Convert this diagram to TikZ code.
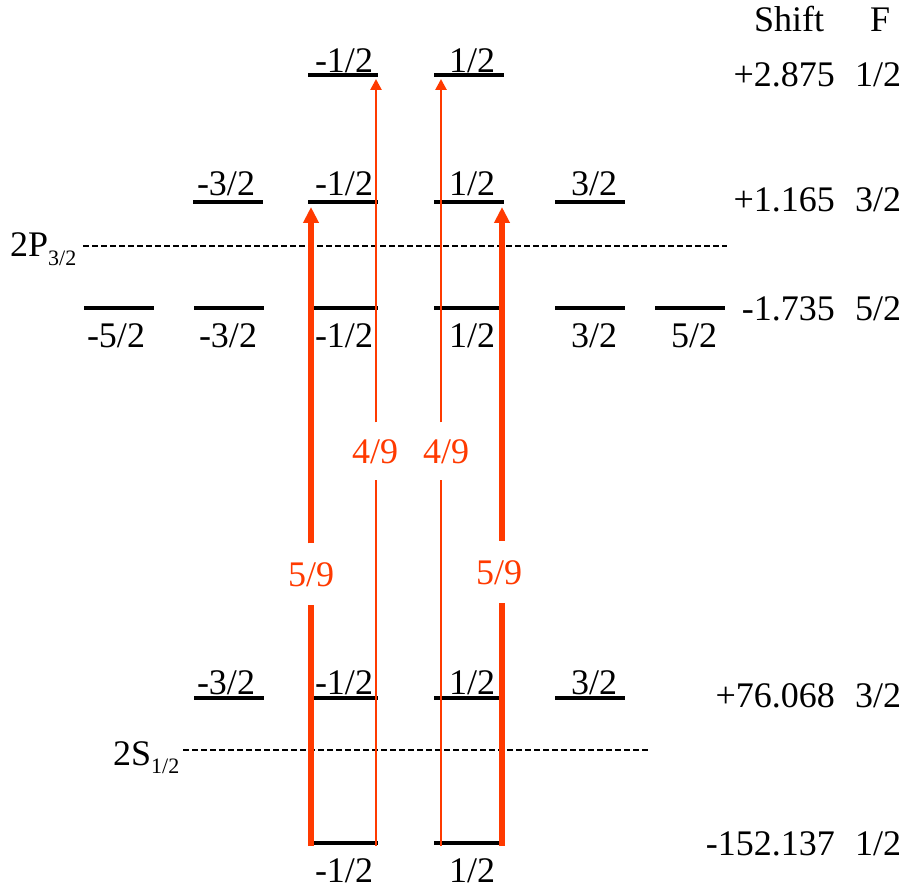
\documentclass[tikz,border=0pt]{standalone}
\usepackage{fontspec}
\setmainfont{Liberation Serif}
\usetikzlibrary{arrows.meta}
\definecolor{trred}{RGB}{255,58,0}
\tikzset{
  lvl/.style={line width=3.2pt},
  sep/.style={line width=1.2pt, dash pattern=on 5.5pt off 3.5pt},
  txt/.style={inner sep=0pt, font=\rmfamily\fontsize{36}{40}\selectfont, anchor=base},
  rtxt/.style={txt, anchor=base east},
  ltxt/.style={txt, anchor=base west},
  prob/.style={inner sep=0pt, fill=white, text=trred, font=\rmfamily\fontsize{36}{40}\selectfont,
               text height=25pt, text depth=0pt},
  thickarr/.style={draw=trred, line width=5.5pt, -{Triangle[length=16pt,width=15pt]}},
  thinarr/.style={draw=trred, line width=2.6pt, -{Triangle[length=11pt,width=11pt]}},
  thickseg/.style={draw=trred, line width=5.5pt},
  thinseg/.style={draw=trred, line width=2.6pt},
}
\begin{document}
\begin{tikzpicture}[x=1pt,y=-1pt]
\useasboundingbox (0,0) rectangle (907,890);

% ---------- level lines ----------
% 2P F=1/2
\foreach \a/\b in {308/378,434/504} \draw[lvl] (\a,75) -- (\b,75);
% 2P F=3/2
\foreach \a/\b in {193/263,308/378,434/504,555/625} \draw[lvl] (\a,202) -- (\b,202);
% 2P F=5/2
\foreach \a/\b in {84/154,194/264,308/378,434/504,555/625,655/725} \draw[lvl] (\a,308) -- (\b,308);
% 2S F=3/2
\foreach \a/\b in {194/264,308/378,434/504,555/625} \draw[lvl] (\a,698) -- (\b,698);
% 2S F=1/2
\foreach \a/\b in {308/378,434/504} \draw[lvl] (\a,843) -- (\b,843);

% ---------- m_F labels ----------
\node[txt] (t1) at (344,73) {-1/2};
\node[txt] (t2) at (472,73) {1/2};
\foreach \x/\t [count=\i] in {226/{-3/2},344/{-1/2},472/{1/2},594/{3/2}}
  \node[txt] (u\i) at (\x,196) {\t};
\foreach \x/\t [count=\i] in {116/{-5/2},228/{-3/2},344/{-1/2},472/{1/2},594/{3/2},694/{5/2}}
  \node[txt] (f\i) at (\x,348) {\t};
\foreach \x/\t [count=\i] in {226/{-3/2},344/{-1/2},472/{1/2},594/{3/2}}
  \node[txt] (s\i) at (\x,694) {\t};
\node[txt] (b1) at (344,882) {-1/2};
\node[txt] (b2) at (472,882) {1/2};

% ---------- fine-structure separators ----------
\coordinate (pL) at (83,246);  \coordinate (pR) at (727,246);
\draw[sep] (pL) -- (pR);
\coordinate (sL) at (183,750); \coordinate (sR) at (648,750);
\draw[sep] (sL) -- (sR);
\node[ltxt] (P32) at (10,257) {2P\raisebox{-9pt}{\fontsize{22}{24}\selectfont 3/2}};
\node[ltxt] (S12) at (113,765) {2S\raisebox{-8pt}{\fontsize{22}{24}\selectfont 1/2}};

% ---------- right column ----------
\node[txt] (hShift) at (789,32) {Shift};
\node[txt] (hF) at (880,32) {F};
\foreach \y/\s/\f [count=\i] in {87/{+2.875}/{1/2}, 212/{+1.165}/{3/2}, 320/{-1.735}/{5/2}, 707/{+76.068}/{3/2}, 855/{-152.137}/{1/2}}{
  \node[rtxt] (sh\i) at (835,\y) {\s};
  \node[ltxt] (ff\i) at (855,\y) {\f};
}

% ---------- transitions ----------
\coordinate (a1) at (311,846); \coordinate (a1t) at (311,207);
\coordinate (a2) at (376,846); \coordinate (a2t) at (376,79);
\coordinate (a3) at (441,846); \coordinate (a3t) at (441,79);
\coordinate (a4) at (502,846); \coordinate (a4t) at (502,207);

\node[prob, minimum height=61pt] (p1) at (311,574) {5/9};
\node[prob, minimum height=57pt] (p2) at (375,451) {4/9};
\node[prob, minimum height=57pt] (p3) at (446,451) {4/9};
\node[prob, minimum height=62pt] (p4) at (499,572) {5/9};

\draw[thickseg] (a1) -- (a1 |- p1.south);
\draw[thickarr] (a1 |- p1.north) -- (a1t);
\draw[thinseg] (a2) -- (a2 |- p2.south);
\draw[thinarr] (a2 |- p2.north) -- (a2t);
\draw[thinseg] (a3) -- (a3 |- p3.south);
\draw[thinarr] (a3 |- p3.north) -- (a3t);
\draw[thickseg] (a4) -- (a4 |- p4.south);
\draw[thickarr] (a4 |- p4.north) -- (a4t);
\end{tikzpicture}
\end{document}
